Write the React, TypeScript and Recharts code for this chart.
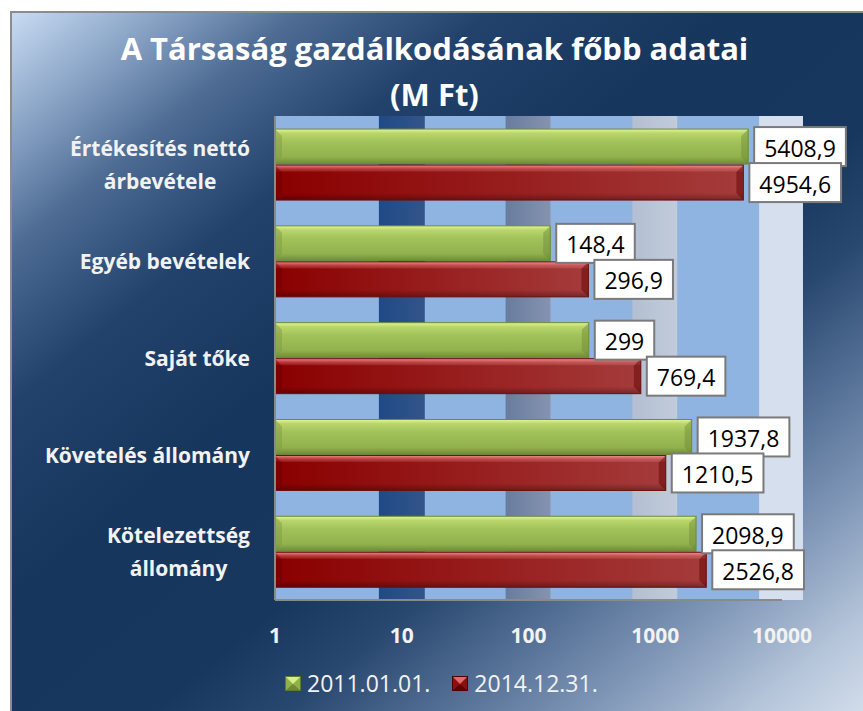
import React from 'react';
import { BarChart, Bar, XAxis, YAxis, ReferenceArea, LabelList, Legend } from 'recharts';

const categories = [
  'Értékesítés nettó árbevétele',
  'Egyéb bevételek',
  'Saját tőke',
  'Követelés állomány',
  'Kötelezettség állomány',
];
const categoryLines = [
  ['Értékesítés nettó', 'árbevétele'],
  ['Egyéb bevételek'],
  ['Saját tőke'],
  ['Követelés állomány'],
  ['Kötelezettség', 'állomány'],
];
const values2011 = [5408.9, 148.4, 299, 1937.8, 2098.9];
const values2014 = [4954.6, 296.9, 769.4, 1210.5, 2526.8];
const seriesNames = ['2011.01.01.', '2014.12.31.'];
const xTicks = [1, 10, 100, 1000, 10000];
// decorative stripes of the plot background, in axis units
const bandRanges = [
  [6.6, 15.2],
  [66, 149],
  [660, 1490],
  [6600, 14640],
];
const bandFills = ['url(#band0)', 'url(#band1)', 'url(#band2)', '#d5dfee'];

const data = categories.map((name, i) => ({
  name,
  a: values2011[i],
  b: values2014[i],
}));

const FONT = '"Open Sans", "DejaVu Sans", sans-serif';

let ctx: CanvasRenderingContext2D | null = null;
const measure = (text: string, font: string) => {
  if (!ctx) ctx = document.createElement('canvas').getContext('2d');
  if (!ctx) return text.length * 11;
  ctx.font = font;
  return ctx.measureText(text).width;
};

const fmt = (v: number) => String(v).replace('.', ',');

const BevelBar = (props: any) => {
  const { x, y, width, height, dataKey } = props;
  if (!width || width <= 0) return null;
  const green = dataKey === 'a';
  const b = Math.min(7, height / 4);
  return (
    <g>
      <rect x={x} y={y} width={width} height={height} fill={green ? 'url(#gGreen)' : 'url(#gRedH)'} />
      {!green && <rect x={x} y={y} width={width} height={height} fill="url(#gRedV)" />}
      <polygon
        points={`${x},${y} ${x + b},${y + b} ${x + b},${y + height - b} ${x},${y + height}`}
        fill={green ? '#7d9a3c' : '#6a0000'}
        fillOpacity={0.45}
      />
      <polygon
        points={`${x + width},${y} ${x + width - b},${y + b} ${x + width - b},${y + height - b} ${x + width},${y + height}`}
        fill={green ? '#6e8a33' : '#5a0000'}
        fillOpacity={0.45}
      />
      <rect x={x} y={y} width={width} height={height} fill="none" stroke={green ? '#6f8a36' : '#6b1010'} strokeWidth={1} />
    </g>
  );
};

const ValueBox = (props: any) => {
  const { x, y, width, height, value } = props;
  const text = fmt(value);
  const w = measure(text, `23px ${FONT}`) + 20;
  const bx = x + width + 6;
  const cy = y + height / 2;
  return (
    <g>
      <rect x={bx} y={cy - 19.5} width={w} height={39} fill="#ffffff" stroke="#7a7a7a" strokeWidth={2} />
      <text
        x={bx + w / 2}
        y={cy + 1}
        textAnchor="middle"
        dominantBaseline="central"
        fontFamily={FONT}
        fontSize={23}
        fill="#000"
      >
        {text}
      </text>
    </g>
  );
};

const CategoryTick = (props: any) => {
  const { x, y, payload } = props;
  const idx = categories.indexOf(payload.value);
  const lines = categoryLines[idx] || [payload.value];
  const font = `bold 21px ${FONT}`;
  const maxW = Math.max(...lines.map((l) => measure(l, font)));
  const cx = x - 25 - maxW / 2;
  const lineH = 33;
  const y0 = y - ((lines.length - 1) * lineH) / 2;
  return (
    <g>
      {lines.map((l, i) => (
        <text
          key={i}
          x={cx}
          y={y0 + i * lineH}
          textAnchor="middle"
          dominantBaseline="central"
          fontFamily={FONT}
          fontWeight="bold"
          fontSize={21}
          fill="#f2f2f2"
        >
          {l}
        </text>
      ))}
    </g>
  );
};

const LegendMarker = ({ green }: { green: boolean }) => (
  <svg width={16} height={15} style={{ display: 'block' }}>
    <rect x={0} y={0} width={16} height={15} fill={green ? '#8fb04b' : '#8b1010'} />
    <polygon points="0,0 16,0 8,8" fill={green ? '#d6ef86' : '#e06a6a'} />
    <polygon points="0,15 16,15 8,8" fill={green ? '#6f8a33' : '#600000'} />
    <rect x={0.5} y={0.5} width={15} height={14} fill="none" stroke={green ? '#5f7a2c' : '#500000'} />
  </svg>
);

const LegendContent = () => (
  <div style={{ display: 'flex', alignItems: 'center', fontFamily: FONT, fontSize: 23, color: '#f2f2f2' }}>
    {seriesNames.map((n, i) => (
      <div key={n} style={{ display: 'flex', alignItems: 'center', marginRight: 22 }}>
        <LegendMarker green={i === 0} />
        <span style={{ marginLeft: 6, lineHeight: '26px' }}>{n}</span>
      </div>
    ))}
  </div>
);

export default function App() {
  return (
    <div style={{ position: 'absolute', left: 0, top: 0, width: 863, height: 711, overflow: 'hidden', background: '#fff' }}>
      <div
        style={{
          position: 'absolute',
          left: 10,
          top: 11,
          width: 853,
          height: 700,
          borderLeft: '2px solid #8c8c8c',
          borderTop: '2px solid #8c8c8c',
          background:
            'linear-gradient(to bottom right, #c8dbf2 0%, #8ea8c9 8%, #4d6b93 17%, #22426c 28%, #17365d 42%, #18375e 58%, #294870 66%, #4f6b91 74%, #8198b8 84%, #b4c4d9 93%, #d2ddeb 100%)',
        }}
      />
      <div
        style={{
          position: 'absolute',
          left: 0,
          width: 863,
          top: 25,
          textAlign: 'center',
          fontFamily: FONT,
          fontWeight: 'bold',
          fontSize: 31,
          color: '#ffffff',
          lineHeight: '46px',
        }}
      >
        <div style={{ paddingLeft: 6 }}>A Társaság gazdálkodásának főbb adatai</div>
        <div style={{ paddingLeft: 6 }}>(M Ft)</div>
      </div>
      <div style={{ position: 'absolute', left: 0, top: 0 }}>
        <BarChart
          width={863}
          height={711}
          data={data}
          layout="vertical"
          margin={{ top: 116, right: 81, left: 0, bottom: 51 }}
          barCategoryGap="13.5%"
          barGap={1}
        >
          <defs>
            <linearGradient id="gGreen" x1="0" y1="0" x2="0" y2="1">
              <stop offset="0" stopColor="#e2f59a" />
              <stop offset="0.12" stopColor="#b9d66c" />
              <stop offset="0.35" stopColor="#a2c35b" />
              <stop offset="0.8" stopColor="#90b14c" />
              <stop offset="1" stopColor="#6d8a36" />
            </linearGradient>
            <linearGradient id="gRedH" x1="0" y1="0" x2="1" y2="0">
              <stop offset="0" stopColor="#8a0000" />
              <stop offset="1" stopColor="#a53b3b" />
            </linearGradient>
            <linearGradient id="gRedV" x1="0" y1="0" x2="0" y2="1">
              <stop offset="0" stopColor="#ffb0b0" stopOpacity={0.8} />
              <stop offset="0.12" stopColor="#ff8080" stopOpacity={0.35} />
              <stop offset="0.2" stopColor="#ffffff" stopOpacity={0} />
              <stop offset="0.8" stopColor="#000000" stopOpacity={0} />
              <stop offset="1" stopColor="#000000" stopOpacity={0.3} />
            </linearGradient>
            <linearGradient id="band0" x1="0" y1="0" x2="1" y2="0">
              <stop offset="0" stopColor="#1f4a86" />
              <stop offset="1" stopColor="#33548a" />
            </linearGradient>
            <linearGradient id="band1" x1="0" y1="0" x2="1" y2="0">
              <stop offset="0" stopColor="#687c9e" />
              <stop offset="1" stopColor="#8593b0" />
            </linearGradient>
            <linearGradient id="band2" x1="0" y1="0" x2="1" y2="0">
              <stop offset="0" stopColor="#b3bfd2" />
              <stop offset="1" stopColor="#c1cbda" />
            </linearGradient>
          </defs>
          <ReferenceArea x1={1} x2={10000} fill="#8fb4e1" fillOpacity={1} stroke="none" ifOverflow="visible" />
          {bandRanges.map(([a, b], i) => (
            <ReferenceArea
              key={i}
              x1={a}
              x2={b}
              fill={bandFills[i]}
              fillOpacity={1}
              stroke="none"
              ifOverflow="visible"
            />
          ))}
          <XAxis
            type="number"
            scale="log"
            domain={[1, 10000]}
            ticks={xTicks}
            allowDataOverflow
            height={60}
            tickLine={false}
            tickSize={0}
            tickMargin={28}
            axisLine={{ stroke: '#8a8a8a', strokeWidth: 2 }}
            tick={{ fill: '#f2f2f2', fontSize: 21, fontWeight: 'bold', fontFamily: FONT }}
          />
          <YAxis
            type="category"
            dataKey="name"
            width={275}
            tickLine={false}
            tickSize={0}
            tickMargin={0}
            axisLine={{ stroke: '#8a8a8a', strokeWidth: 2 }}
            tick={<CategoryTick />}
            interval={0}
          />
          <Legend
            layout="horizontal"
            verticalAlign="middle"
            align="center"
            content={<LegendContent />}
            wrapperStyle={{ left: 285, top: 670, width: 'auto' }}
          />
          <Bar dataKey="a" name={seriesNames[0]} fill="#9bbb59" shape={<BevelBar />} isAnimationActive={false}>
            <LabelList dataKey="a" content={<ValueBox />} />
          </Bar>
          <Bar dataKey="b" name={seriesNames[1]} fill="#c0504d" shape={<BevelBar />} isAnimationActive={false}>
            <LabelList dataKey="b" content={<ValueBox />} />
          </Bar>
        </BarChart>
      </div>
    </div>
  );
}
